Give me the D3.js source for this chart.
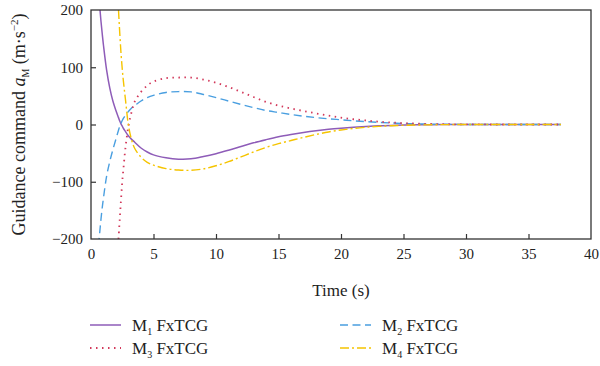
<!DOCTYPE html>
<html>
<head>
<meta charset="utf-8">
<script src="https://cdn.jsdelivr.net/npm/d3@7"></script>
<style>
  body { margin: 0; background: #fff; }
  svg, svg text { font-family: "Liberation Serif", "Times New Roman", serif; }
</style>
</head>
<body>
<div id="vis"></div>
<script>
// sample times (s)
var times = [0.6, 0.7, 0.8, 0.9, 1.0, 1.25, 1.5, 1.75, 2.0, 2.2, 2.3, 2.4, 2.5, 2.6, 2.75, 3.0, 3.25, 3.5,
    4.0, 4.5, 5.0, 6.0, 7.0, 8.0, 9.0, 10, 11, 12, 13, 14, 15, 16, 17, 18, 19, 20, 21, 22, 23, 24, 25, 26, 28, 30, 33, 37.6];

var m1 = [235, 205, 180, 158, 138, 95, 64, 41, 24, 12, 6, 1, -3, -7, -12, -20, -26, -31,
    -41, -48, -53, -58, -60.5, -60, -56, -51, -45, -38.5, -32, -26.5, -21.5, -17.5, -14, -11, -8.5, -6.5, -4.8, -3.4, -2.4, -1.6, -1, -0.6, -0.2, 0, 0, 0];
var m2 = [-212, -188, -165, -145, -128, -90, -65, -44, -25, -10, -3, 2, 7, 11, 16, 23, 29, 33,
    41, 47, 51, 56, 57.5, 57, 52.5, 47, 41, 35, 29.5, 24.5, 21, 17.5, 14.5, 12, 10, 8.3, 6.5, 5, 3.7, 2.7, 1.8, 1.2, 0.4, 0.1, 0, 0];
var m3 = [null, null, null, null, null, null, null, null, null, -200, -165, -132, -100, -76, -42, -2, 22, 40,
    57, 68, 75, 81, 82, 82, 78.5, 73, 65.5, 57, 48, 39.5, 33, 28, 23.5, 19.5, 15.5, 12, 9.2, 7, 5, 3.5, 2.4, 1.6, 0.6, 0.2, 0, 0];
var m4 = [null, null, null, null, null, null, null, null, null, 200, 160, 125, 97, 74, 45, -2, -27, -42,
    -57, -66, -71, -77, -79.5, -80, -77.5, -72, -65, -56.5, -48, -40, -33.5, -28, -22.5, -17.5, -13, -9.5, -6.8, -4.8, -3.3, -2.2, -1.4, -0.9, -0.3, 0, 0, 0];

var xTicks = [0, 5, 10, 15, 20, 25, 30, 35, 40];
var yTicks = [-200, -100, 0, 100, 200];

var series = [
    {name: '1', values: m1, color: '#8e5cb8', dash: null, width: 1.5},
    {name: '2', values: m2, color: '#4a9fe0', dash: '8,4.5', width: 1.4},
    {name: '3', values: m3, color: '#d2385a', dash: '1.5,4.5', width: 1.8},
    {name: '4', values: m4, color: '#f5c400', dash: '9,3,2,3', width: 1.4}
];

var margin = {left: 91, right: 9, top: 10, bottom: 127};
var W = 600, H = 366;
var width = W - margin.left - margin.right;
var height = H - margin.top - margin.bottom;
var font = '"Liberation Serif", "Times New Roman", serif';

var svg = d3.select('#vis').append('svg')
    .attr('width', W)
    .attr('height', H)
    .attr('font-family', font);

var g = svg.append('g')
    .attr('transform', 'translate(' + margin.left + ',' + margin.top + ')');

var x = d3.scaleLinear().domain([0, 40]).range([0, width]);
var y = d3.scaleLinear().domain([-200, 200]).range([height, 0]);

g.append('clipPath').attr('id', 'clip')
    .append('rect').attr('width', width).attr('height', height);

// lines
var line = d3.line()
    .defined(d => d.v != null)
    .x(d => x(d.t))
    .y(d => y(d.v))
    .curve(d3.curveCatmullRom.alpha(0.5));

var plot = g.append('g').attr('clip-path', 'url(#clip)');
series.forEach(s => {
    var pts = times.map((t, i) => ({t: t, v: s.values[i]}));
    plot.append('path')
        .datum(pts)
        .attr('fill', 'none')
        .attr('stroke', s.color)
        .attr('stroke-width', s.width)
        .attr('stroke-dasharray', s.dash)
        .attr('d', line);
});

// axes (ticks point inward)
var xAxis = g.append('g')
    .attr('transform', 'translate(0,' + height + ')')
    .call(d3.axisBottom(x).tickValues(xTicks).tickSizeInner(-5).tickSizeOuter(0).tickPadding(9));
var yAxis = g.append('g')
    .call(d3.axisLeft(y).tickValues(yTicks).tickSizeInner(-5).tickSizeOuter(0).tickPadding(8)
        .tickFormat(d => d < 0 ? '\u2212' + Math.abs(d) : d));

[xAxis, yAxis].forEach(a => {
    a.attr('font-family', font).attr('font-size', 15);
    a.select('.domain').remove();
    a.selectAll('.tick line').attr('stroke', '#333').attr('stroke-width', 1.2);
    a.selectAll('.tick text').attr('fill', '#222');
});
xAxis.selectAll('.tick').filter(d => d == 0 || d == 40).select('line').remove();
yAxis.selectAll('.tick').filter(d => d == -200 || d == 200).select('line').remove();

// frame
g.append('rect')
    .attr('width', width).attr('height', height)
    .attr('fill', 'none').attr('stroke', '#333').attr('stroke-width', 1.3);

// axis titles
svg.append('text')
    .attr('x', margin.left + width / 2)
    .attr('y', 296)
    .attr('text-anchor', 'middle')
    .attr('fill', '#222')
    .style('font-size', '17px')
    .text('Time (s)');

var yt = svg.append('text')
    .attr('transform', 'translate(25,' + (margin.top + height / 2) + ') rotate(-90)')
    .attr('text-anchor', 'middle')
    .attr('fill', '#222')
    .style('font-size', '18px');
yt.append('tspan').text('Guidance command ');
yt.append('tspan').style('font-style', 'italic').text('a');
yt.append('tspan').attr('dy', 4).style('font-size', '10px').text('M');
yt.append('tspan').attr('dy', -4).text(' (m\u00b7s');
yt.append('tspan').attr('dy', -7).style('font-size', '11px').text('\u22122');
yt.append('tspan').attr('dy', 7).text(')');

// legend
var legendPos = [
    {s: series[0], x: 90, y: 326},
    {s: series[1], x: 340, y: 326},
    {s: series[2], x: 90, y: 349},
    {s: series[3], x: 340, y: 349}
];
legendPos.forEach(p => {
    var lg = svg.append('g').attr('transform', 'translate(' + p.x + ',' + p.y + ')');
    lg.append('line')
        .attr('x1', 0).attr('x2', 31).attr('y1', -1).attr('y2', -1)
        .attr('stroke', p.s.color)
        .attr('stroke-width', p.s.width)
        .attr('stroke-dasharray', p.s.dash);
    var t = lg.append('text')
        .attr('x', 42).attr('y', 5)
        .attr('fill', '#222')
        .style('font-size', '17px');
    t.append('tspan').text('M');
    t.append('tspan').attr('dy', 4).style('font-size', '10px').text(p.s.name);
    t.append('tspan').attr('dy', -4).text(' FxTCG');
});
</script>
</body>
</html>
